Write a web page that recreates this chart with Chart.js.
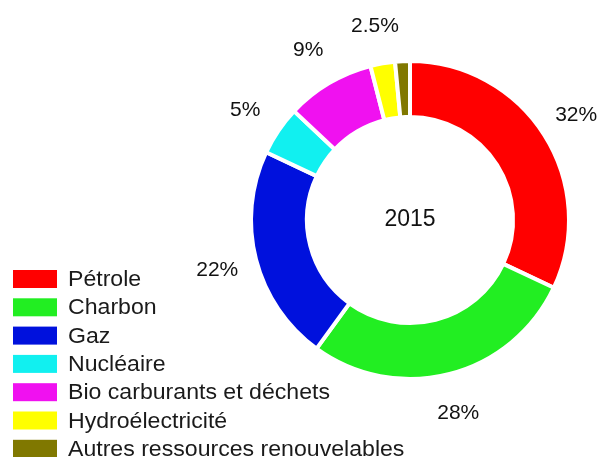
<!DOCTYPE html>
<html>
<head>
<meta charset="utf-8">
<script src="https://cdn.jsdelivr.net/npm/chart.js@4.4.0/dist/chart.umd.min.js"></script>
<style>
  html, body { margin: 0; padding: 0; background: #fff; }
  #wrap { width: 599px; height: 457px; position: relative; }
</style>
</head>
<body>
<div id="wrap"><canvas id="mix"></canvas></div>
<script>
'use strict';

// energy mix 2015
var sources = ['Pétrole', 'Charbon', 'Gaz', 'Nucléaire', 'Bio carburants et déchets', 'Hydroélectricité', 'Autres ressources renouvelables'];
var shares = [32, 28, 22, 5, 9, 2.5, 1.5];
var shareLabels = ['32%', '28%', '22%', '5%', '9%', '2.5%', ''];
var colors = ['#ff0000', '#22ee22', '#0011dd', '#11f0f0', '#f011f0', '#ffff00', '#807800'];
var centerText = '2015';

var FONT = '"Liberation Sans", Arial, sans-serif';

// percentages around the ring + year in the middle
var labelPlugin = {
  id: 'ringLabels',
  afterDatasetsDraw: function(chart) {
    var ctx = chart.ctx;
    var meta = chart.getDatasetMeta(0);
    ctx.save();
    ctx.fillStyle = '#111';
    ctx.textAlign = 'center';
    ctx.textBaseline = 'middle';
    ctx.font = '21px ' + FONT;
    meta.data.forEach(function(arc, i) {
      if (!shareLabels[i]) return;
      var mid = (arc.startAngle + arc.endAngle) / 2;
      var r = arc.outerRadius + 39;
      ctx.fillText(shareLabels[i], arc.x + Math.cos(mid) * r - 1, arc.y + Math.sin(mid) * r + 1);
    });
    var a = meta.data[0];
    ctx.font = '23px ' + FONT;
    ctx.fillText(centerText, a.x, a.y);
    ctx.restore();
  }
};

// legend drawn by hand, bottom left
var legendPlugin = {
  id: 'sideLegend',
  afterDraw: function(chart) {
    var ctx = chart.ctx;
    ctx.save();
    ctx.textBaseline = 'middle';
    ctx.textAlign = 'left';
    ctx.font = '22px ' + FONT;
    for (var i = 0; i < sources.length; i++) {
      var y = 279 + i * 28.3;
      ctx.fillStyle = colors[i];
      ctx.fillRect(13, y - 9, 44, 18);
      ctx.fillStyle = '#1a1a1a';
      // source text looks a bit wider than Liberation, stretch it slightly
      ctx.save();
      ctx.translate(68, y + 1);
      ctx.scale(1.05, 1);
      ctx.fillText(sources[i], 0, 0);
      ctx.restore();
    }
    ctx.restore();
  }
};

var ctx = document.getElementById('mix');
var mixChart = new Chart(ctx, {
  type: 'doughnut',
  data: {
    labels: sources,
    datasets: [{
      data: shares,
      backgroundColor: colors,
      borderColor: '#ffffff',
      borderWidth: 4
    }]
  },
  options: {
    responsive: true,
    maintainAspectRatio: false,
    animation: false,
    cutout: '64.8%',
    layout: {
      padding: { left: 249, right: 28, top: 59, bottom: 76 }
    },
    plugins: {
      legend: { display: false },
      tooltip: { enabled: false }
    }
  },
  plugins: [labelPlugin, legendPlugin]
});
</script>
</body>
</html>
